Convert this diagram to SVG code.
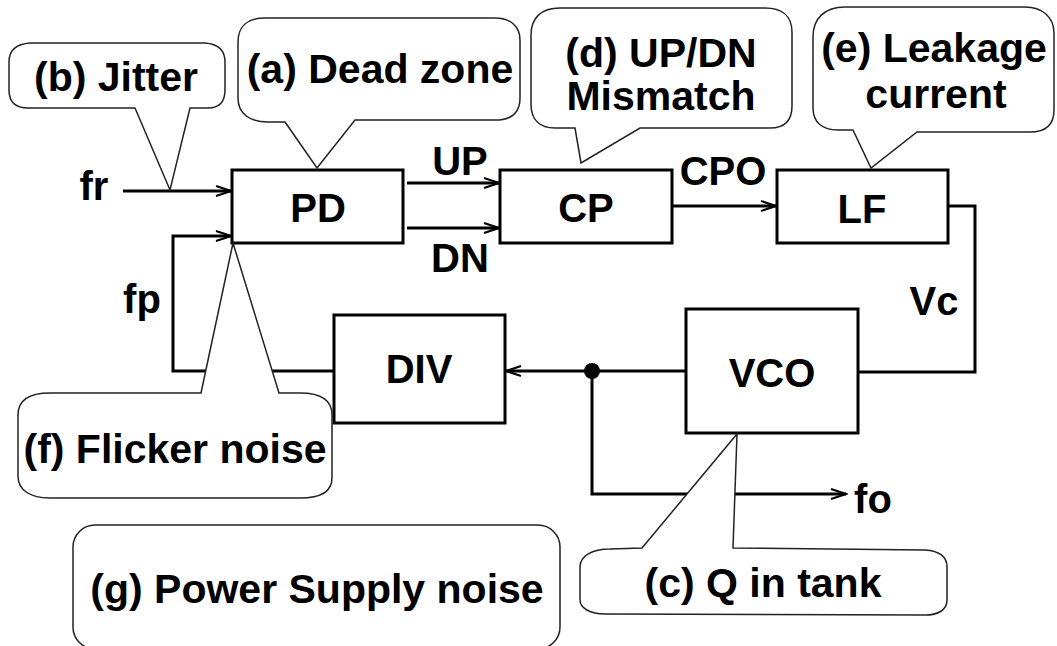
<svg xmlns="http://www.w3.org/2000/svg" width="1057" height="646" viewBox="0 0 1057 646">
<defs>
<style>
.box{fill:#fff;stroke:#000;stroke-width:3}
.wire{fill:none;stroke:#000;stroke-width:3}
.bub{fill:#fff;stroke:#222;stroke-width:1.5;stroke-linejoin:miter}
text{font-family:"Liberation Sans",Arial,Helvetica,sans-serif;font-weight:bold;fill:#000;text-anchor:middle}
.lbl{font-size:40px}
.cal{font-size:41px}
</style>
<marker id="ah" markerUnits="userSpaceOnUse" markerWidth="18" markerHeight="14" refX="16" refY="7" orient="auto">
<path d="M1,2 L16,7 L1,12" fill="none" stroke="#000" stroke-width="2"/>
</marker>
</defs>
<rect width="1057" height="646" fill="#fff"/>

<g id="connectors">
<line class="wire" x1="123" y1="191" x2="231" y2="191" marker-end="url(#ah)"/>
<line class="wire" x1="407" y1="183" x2="499" y2="183" marker-end="url(#ah)"/>
<line class="wire" x1="407" y1="228" x2="499" y2="228" marker-end="url(#ah)"/>
<line class="wire" x1="672" y1="206" x2="776" y2="206" marker-end="url(#ah)"/>
<polyline class="wire" points="948,206 975,206 975,372 858,372"/>
<line class="wire" x1="686" y1="371" x2="506" y2="371" marker-end="url(#ah)"/>
<circle cx="592" cy="371" r="8" fill="#000"/>
<polyline class="wire" points="592,371 592,494 846,494" marker-end="url(#ah)"/>
<polyline class="wire" points="333,371 173,371 173,236 231,236" marker-end="url(#ah)"/>
<text class="lbl" x="94" y="200">fr</text>
<text class="lbl" x="142" y="313">fp</text>
<text class="lbl" x="460" y="175">UP</text>
<text class="lbl" x="460" y="272">DN</text>
<text class="lbl" x="723" y="185">CPO</text>
<text class="lbl" x="934" y="315">Vc</text>
<text class="lbl" x="873" y="513">fo</text>
</g>

<g id="PD">
<rect class="box" x="232" y="170" width="171" height="73"/>
<text class="lbl" x="318" y="222">PD</text>
</g>
<g id="CP">
<rect class="box" x="500" y="170" width="172" height="73"/>
<text class="lbl" x="586" y="222">CP</text>
</g>
<g id="LF">
<rect class="box" x="777" y="170" width="171" height="73"/>
<text class="lbl" x="862" y="223">LF</text>
</g>
<g id="VCO">
<rect class="box" x="686" y="309" width="172" height="124"/>
<text class="lbl" x="772" y="387">VCO</text>
</g>
<g id="DIV">
<rect class="box" x="334" y="315" width="171" height="108"/>
<text class="lbl" x="419" y="383">DIV</text>
</g>

<g id="callout-b">
<path class="bub" d="M135,108 L170,190 L190,108 L208,108 C220,108 225,102 225,90 L225,62 C225,50 218,44 205,43 L30,43 C16,44 9,50 9,62 L9,90 C9,102 15,108 28,108 Z"/>
<text class="cal" x="116" y="91">(b) Jitter</text>
</g>
<g id="callout-a">
<path class="bub" d="M285,122 L317,168 L355,120 L495,120 C512,120 520,112 520,98 L520,40 C520,26 510,18 495,18 L265,18 C248,18 238,26 238,42 L238,98 C238,114 250,122 268,122 Z"/>
<text class="cal" x="380" y="83">(a) Dead zone</text>
</g>
<g id="callout-d">
<path class="bub" d="M575,128 L581,163 L640,128 L770,128 C785,128 792,120 792,106 L792,32 C792,16 782,8 765,8 L560,8 C541,8 531,18 531,35 L531,104 C531,120 540,128 555,128 Z"/>
<text class="cal" x="661" y="67">(d) UP/DN</text>
<text class="cal" x="661" y="110">Mismatch</text>
</g>
<g id="callout-e">
<path class="bub" d="M853,130 L871,168 L917,132 L1030,132 C1046,132 1054,124 1054,110 L1054,33 C1054,17 1042,7 1025,7 L845,7 C825,7 813,18 813,37 L813,108 C813,122 822,130 838,130 Z"/>
<text class="cal" x="934" y="62">(e) Leakage</text>
<text class="cal" x="936" y="108">current</text>
</g>
<g id="callout-f">
<path class="bub" d="M201,393 L233,243 L279,393 L300,393 C320,393 332,400 332,415 L332,478 C332,492 320,498 300,498 L50,498 C30,498 18,490 18,476 L18,415 C18,400 30,393 50,393 Z"/>
<text class="cal" x="175" y="463">(f) Flicker noise</text>
</g>
<g id="callout-c">
<path class="bub" d="M642,548 L737,434 L733,548 L925,550 C940,551 947,557 947,567 L947,600 C947,610 938,615 925,615 L605,614 C590,614 580,608 580,600 L580,567 C580,556 592,549 610,549 Z"/>
<text class="cal" x="763" y="597">(c) Q in tank</text>
</g>
<g id="callout-g">
<rect class="bub" x="73" y="525" width="487" height="124" rx="22"/>
<text class="cal" x="317" y="603">(g) Power Supply noise</text>
</g>
</svg>
